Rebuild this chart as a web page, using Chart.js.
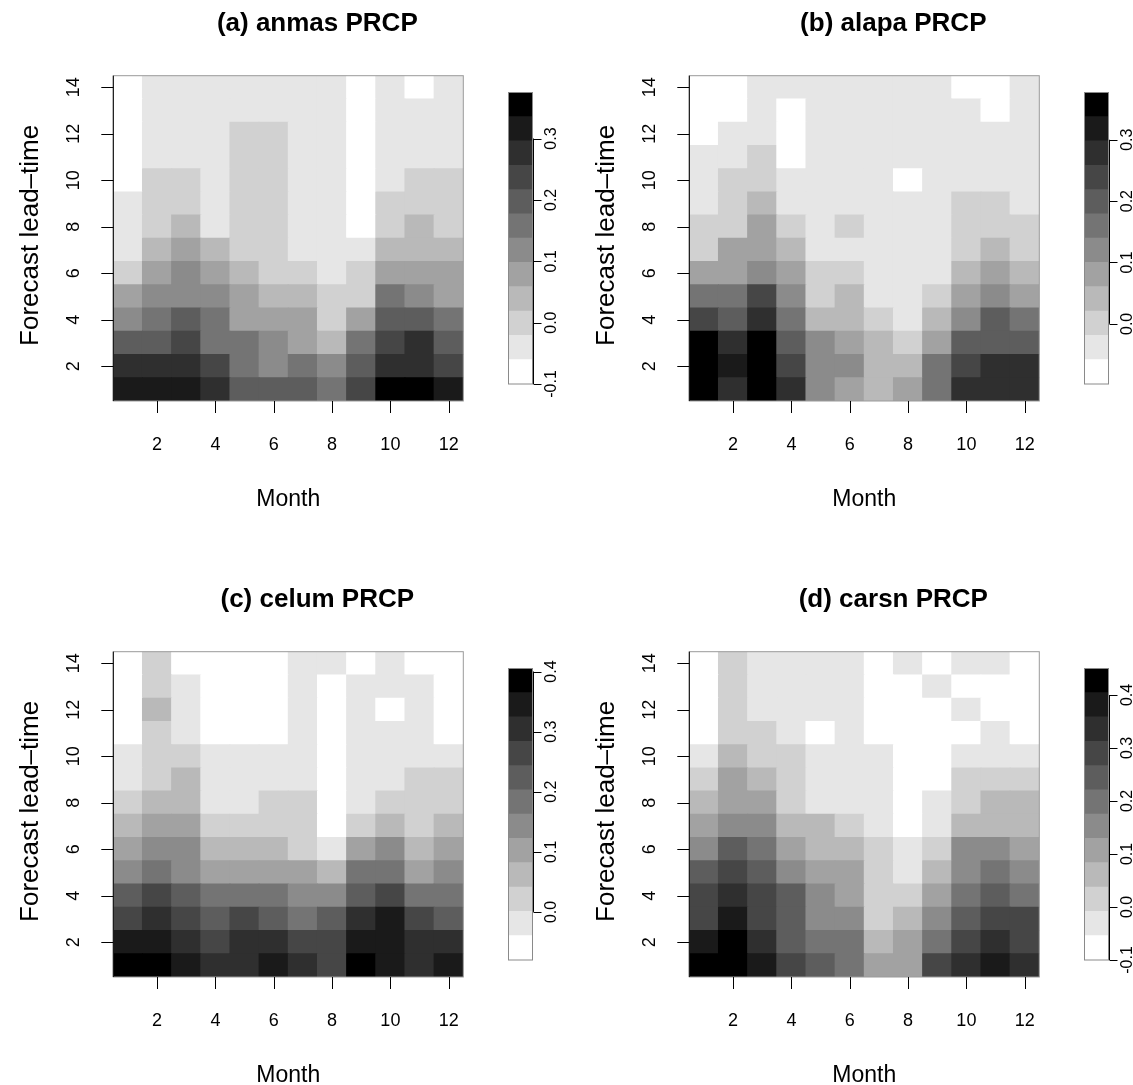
<!DOCTYPE html>
<html>
<head>
<meta charset="utf-8">
<script src="https://cdn.jsdelivr.net/npm/chart.js@4.4.0/dist/chart.umd.min.js"></script>
<style>
    body { margin: 0; background: #fff; }
    #page { position: relative; width: 1133px; height: 1085px; overflow: hidden; background: #fff; }
    #page canvas { position: absolute; }
</style>
</head>
<body>
<div id="page"></div>
<script>
// Axes
const months = [1, 2, 3, 4, 5, 6, 7, 8, 9, 10, 11, 12];
const leadTimes = [1, 2, 3, 4, 5, 6, 7, 8, 9, 10, 11, 12, 13, 14];
const monthTicks = [2, 4, 6, 8, 10, 12];
const leadTicks = [2, 4, 6, 8, 10, 12, 14];

// 12 grey classes, white -> black
const greys = ['#ffffff', '#e6e6e6', '#d1d1d1', '#b9b9b9', '#a2a2a2', '#8b8b8b',
               '#747474', '#5d5d5d', '#464646', '#2f2f2f', '#1a1a1a', '#000000'];

// Colour class of every cell, one row per lead-time (1 .. 14), columns = months
const anmasPRCP = [
    [10,10,10,9,7,7,7,6,8,11,11,10],
    [9,9,9,8,6,5,6,5,7,9,9,8],
    [7,7,8,6,6,5,4,3,6,8,9,7],
    [5,6,7,6,4,4,4,2,4,7,7,6],
    [4,5,5,5,4,3,3,2,2,6,5,4],
    [2,4,5,4,3,2,2,1,2,4,4,4],
    [1,3,4,3,2,2,1,1,1,3,3,3],
    [1,2,3,1,2,2,1,1,0,2,3,2],
    [1,2,2,1,2,2,1,1,0,2,2,2],
    [0,2,2,1,2,2,1,1,0,1,2,2],
    [0,1,1,1,2,2,1,1,0,1,1,1],
    [0,1,1,1,2,2,1,1,0,1,1,1],
    [0,1,1,1,1,1,1,1,0,1,1,1],
    [0,1,1,1,1,1,1,1,0,1,0,1]
];
const alapaPRCP = [
    [11,9,11,9,5,4,3,4,6,9,9,9],
    [11,10,11,8,5,5,3,3,6,8,9,9],
    [11,9,11,7,5,4,3,2,4,7,7,7],
    [8,7,9,6,3,3,2,1,3,5,7,6],
    [6,6,8,5,2,3,1,1,2,4,5,4],
    [4,4,5,4,2,2,1,1,1,3,4,3],
    [2,4,4,3,1,1,1,1,1,2,3,2],
    [2,2,4,2,1,2,1,1,1,2,2,2],
    [1,2,3,1,1,1,1,1,1,2,2,1],
    [1,2,2,1,1,1,1,0,1,1,1,1],
    [1,1,2,0,1,1,1,1,1,1,1,1],
    [0,1,1,0,1,1,1,1,1,1,1,1],
    [0,0,1,0,1,1,1,1,1,1,0,1],
    [0,0,1,1,1,1,1,1,1,0,0,1]
];
const celumPRCP = [
    [11,11,10,9,9,10,9,8,11,10,9,10],
    [10,10,9,8,9,9,8,8,10,10,9,9],
    [8,9,8,7,8,7,6,7,9,10,8,7],
    [7,8,7,6,6,6,5,5,7,8,6,6],
    [5,6,5,4,4,4,4,3,6,6,4,5],
    [4,5,5,3,3,3,2,1,4,5,3,4],
    [3,4,4,2,2,2,2,0,2,3,2,3],
    [2,3,3,1,1,2,2,0,1,2,2,2],
    [1,2,3,1,1,1,1,0,1,1,2,2],
    [1,2,2,1,1,1,1,0,1,1,1,1],
    [0,2,1,0,0,0,1,0,1,1,1,0],
    [0,3,1,0,0,0,1,0,1,0,1,0],
    [0,2,1,0,0,0,1,0,1,1,1,0],
    [0,2,0,0,0,0,1,1,0,1,0,0]
];
const carsnPRCP = [
    [11,11,10,8,7,6,4,4,8,9,10,9],
    [10,11,9,7,6,6,3,4,6,8,9,8],
    [8,10,8,7,5,5,2,3,5,7,8,8],
    [8,9,8,7,5,4,2,2,4,6,7,6],
    [7,8,7,5,4,4,2,1,3,5,6,5],
    [5,7,6,4,3,3,2,1,2,5,5,4],
    [4,5,5,3,3,2,1,0,1,3,3,3],
    [3,4,4,2,1,1,1,0,1,2,3,3],
    [2,4,3,2,1,1,1,0,0,2,2,2],
    [1,3,2,2,1,1,1,0,0,1,1,1],
    [0,2,2,1,0,1,0,0,0,0,1,0],
    [0,2,1,1,1,1,0,0,0,1,0,0],
    [0,2,1,1,1,1,0,0,1,0,0,0],
    [0,2,1,1,1,1,0,1,0,1,1,0]
];

// Legend ranges and ticks per panel
const titles = ['(a) anmas PRCP', '(b) alapa PRCP', '(c) celum PRCP', '(d) carsn PRCP'];
const legendMin = [-0.1, -0.098, -0.08, -0.1];
const legendMax = [0.375, 0.377, 0.405, 0.45];
const legendTicksA = [-0.1, 0.0, 0.1, 0.2, 0.3];
const legendTicksB = [0.0, 0.1, 0.2, 0.3];
const legendTicksC = [0.0, 0.1, 0.2, 0.3, 0.4];
const legendTicksD = [-0.1, 0.0, 0.1, 0.2, 0.3, 0.4];

const grids = [anmasPRCP, alapaPRCP, celumPRCP, carsnPRCP];
const legendTicks = [legendTicksA, legendTicksB, legendTicksC, legendTicksD];

const FONT = '"Liberation Sans", Arial, Helvetica, sans-serif';
const page = document.getElementById('page');

function makeCanvas(left, top, w, h) {
    const c = document.createElement('canvas');
    c.width = w;
    c.height = h;
    c.style.left = left + 'px';
    c.style.top = top + 'px';
    c.style.width = w + 'px';
    c.style.height = h + 'px';
    page.appendChild(c);
    return c;
}

function rotatedText(ctx, text, x, y) {
    ctx.save();
    ctx.translate(x, y);
    ctx.rotate(-Math.PI / 2);
    ctx.fillText(text, 0, 0);
    ctx.restore();
}

// Axes, ticks and labels of a heatmap panel
const panelDecor = {
    id: 'panelDecor',
    afterDraw(chart, args, opts) {
        const { ctx, chartArea: a, scales: { x, y } } = chart;
        ctx.save();
        ctx.lineWidth = 1;
        ctx.strokeStyle = '#9a9a9a';
        ctx.strokeRect(a.left, a.top, a.right - a.left, a.bottom - a.top);

        ctx.strokeStyle = '#000';
        ctx.beginPath();
        ctx.moveTo(a.left, a.top);
        ctx.lineTo(a.left, a.bottom);
        leadTicks.forEach(v => {
            const py = Math.round(y.getPixelForValue(v)) + 0.5;
            ctx.moveTo(a.left - 12, py);
            ctx.lineTo(a.left, py);
        });
        monthTicks.forEach(m => {
            const px = Math.round(x.getPixelForValue(months.indexOf(m))) + 0.5;
            ctx.moveTo(px, a.bottom);
            ctx.lineTo(px, a.bottom + 12);
        });
        ctx.stroke();

        ctx.fillStyle = '#000';
        ctx.font = '18px ' + FONT;
        ctx.textAlign = 'center';
        ctx.textBaseline = 'alphabetic';
        monthTicks.forEach(m => {
            ctx.fillText(String(m), x.getPixelForValue(months.indexOf(m)), a.bottom + 49);
        });
        ctx.textBaseline = 'middle';
        leadTicks.forEach(v => {
            rotatedText(ctx, String(v), a.left - 39, y.getPixelForValue(v));
        });

        const cx = (a.left + a.right) / 2;
        ctx.textBaseline = 'alphabetic';
        ctx.font = '23px ' + FONT;
        ctx.fillText('Month', cx, a.bottom + 105);
        ctx.font = '26px ' + FONT;
        rotatedText(ctx, 'Forecast lead\u2013time', 38, (a.top + a.bottom) / 2 - 3);

        // main title sits over plot + legend
        ctx.font = 'bold 26px ' + FONT;
        ctx.fillText(opts.title, a.left + 204, 31);
        ctx.restore();
    }
};

// Colour legend: frame, axis on the right, rotated labels
const legendDecor = {
    id: 'legendDecor',
    afterDraw(chart, args, opts) {
        const { ctx, chartArea: a, scales: { y } } = chart;
        ctx.save();
        ctx.lineWidth = 1;
        ctx.strokeStyle = '#8a8a8a';
        ctx.strokeRect(a.left, a.top, a.right - a.left, a.bottom - a.top);

        const ticks = opts.ticks;
        const ax = Math.round(a.right) + 0.5;
        ctx.strokeStyle = '#000';
        ctx.beginPath();
        ctx.moveTo(ax, y.getPixelForValue(ticks[0]));
        ctx.lineTo(ax, y.getPixelForValue(ticks[ticks.length - 1]));
        ticks.forEach(v => {
            const py = Math.round(y.getPixelForValue(v)) + 0.5;
            ctx.moveTo(ax, py);
            ctx.lineTo(ax + 8, py);
        });
        ctx.stroke();

        ctx.fillStyle = '#000';
        ctx.font = '16px ' + FONT;
        ctx.textAlign = 'center';
        ctx.textBaseline = 'alphabetic';
        ticks.forEach(v => {
            rotatedText(ctx, v.toFixed(1), ax + 22, y.getPixelForValue(v));
        });
        ctx.restore();
    }
};

function renderPanel(i) {
    const ox = (i % 2) * 576;
    const oy = Math.floor(i / 2) * 576;
    const grid = grids[i];

    // Heatmap: one floating-bar dataset per lead-time row
    const cv = makeCanvas(ox, oy, 496, 509);
    new Chart(cv, {
        type: 'bar',
        data: {
            labels: months,
            datasets: leadTimes.map((lt, r) => ({
                data: months.map(() => [lt - 0.5, lt + 0.5]),
                backgroundColor: grid[r].map(k => greys[k]),
                borderWidth: 0,
                inflateAmount: 0.5,
                grouped: false,
                barPercentage: 1,
                categoryPercentage: 1
            }))
        },
        options: {
            responsive: false,
            animation: false,
            devicePixelRatio: 1,
            layout: { padding: { left: 113.3, top: 75.7, right: 32.7, bottom: 108 } },
            scales: {
                x: { type: 'category', display: false },
                y: { type: 'linear', min: 0.5, max: 14.5, display: false }
            },
            plugins: {
                legend: { display: false },
                tooltip: { enabled: false },
                panelDecor: { title: titles[i] }
            }
        },
        plugins: [panelDecor]
    });

    // Colour legend: 12 stacked classes between the legend limits
    const lo = legendMin[i], hi = legendMax[i];
    const step = (hi - lo) / greys.length;
    const lv = makeCanvas(ox + 496, oy + 80, 61, 320);
    new Chart(lv, {
        type: 'bar',
        data: {
            labels: [''],
            datasets: greys.map((g, k) => ({
                data: [[lo + k * step, lo + (k + 1) * step]],
                backgroundColor: g,
                borderWidth: 0,
                inflateAmount: 0.5,
                grouped: false,
                barPercentage: 1,
                categoryPercentage: 1
            }))
        },
        options: {
            responsive: false,
            animation: false,
            devicePixelRatio: 1,
            layout: { padding: { left: 12.5, top: 12.5, right: 24.5, bottom: 16 } },
            scales: {
                x: { type: 'category', display: false },
                y: { type: 'linear', min: lo, max: hi, display: false }
            },
            plugins: {
                legend: { display: false },
                tooltip: { enabled: false },
                legendDecor: { ticks: legendTicks[i] }
            }
        },
        plugins: [legendDecor]
    });
}

[0, 1, 2, 3].forEach(renderPanel);
</script>
</body>
</html>
